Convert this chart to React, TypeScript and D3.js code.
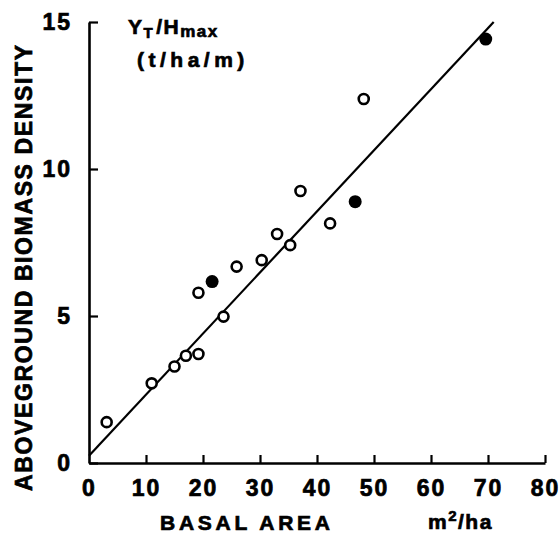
import React, { useEffect, useRef } from 'react';
import * as d3 from 'd3';

// open circles
const openBasal = [3.1, 11.0, 15.0, 17.0, 19.2, 23.6, 19.2, 25.9, 30.3, 33.0, 35.3, 37.1, 42.3, 48.2];
const openDensity = [1.39, 2.71, 3.28, 3.65, 3.71, 4.98, 5.79, 6.68, 6.90, 7.79, 7.41, 9.25, 8.15, 12.38];
// filled circles
const filledBasal = [21.6, 46.7, 69.6];
const filledDensity = [6.17, 8.89, 14.42];
// fitted line
const lineBasal = [0, 71];
const lineIntercept = 0.25;
const lineSlope = 0.2077;

const xTicks = [0, 10, 20, 30, 40, 50, 60, 70, 80];
const yTicks = [0, 5, 10, 15];

const App: React.FC = () => {
    const ref = useRef<SVGSVGElement>(null);
    const width = 560;
    const height = 536;
    const margin = { top: 22, right: 15, bottom: 73, left: 89 };

    useEffect(() => {
        const svg = d3.select(ref.current);
        svg.selectAll("*").remove();

        const font = "'Liberation Sans', Arial, sans-serif";
        const heavy = (t: any) => t
            .attr("font-family", font)
            .attr("font-weight", "bold")
            .attr("fill", "#000")
            .attr("stroke", "#000")
            .attr("stroke-width", 0.7);

        const x = d3.scaleLinear().domain([0, 80]).range([margin.left, width - margin.right]);
        const y = d3.scaleLinear().domain([0, 15]).range([height - margin.bottom, margin.top]);

        const xAxis = svg.append("g")
            .attr("transform", `translate(0,${y(0)})`)
            .call(d3.axisBottom(x).tickValues(xTicks).tickSizeInner(-8).tickSizeOuter(0).tickPadding(17));
        const yAxis = svg.append("g")
            .attr("transform", `translate(${x(0)},0)`)
            .call(d3.axisLeft(y).tickValues(yTicks).tickSizeInner(-9).tickSizeOuter(0).tickPadding(17));

        [xAxis, yAxis].forEach(a => {
            a.select(".domain").attr("stroke", "#000").attr("stroke-width", 2.6);
            a.selectAll(".tick line").attr("stroke", "#000").attr("stroke-width", 2.2);
            heavy(a.selectAll(".tick text"))
                .attr("font-size", 23)
                .attr("letter-spacing", 2);
        });
        xAxis.select(".tick:first-of-type line").remove();

        // fitted line
        svg.append("path")
            .datum(lineBasal)
            .attr("fill", "none")
            .attr("stroke", "#000")
            .attr("stroke-width", 2.2)
            .attr("d", d3.line<number>()
                .x(d => x(d))
                .y(d => y(lineIntercept + lineSlope * d)));

        svg.append("g")
            .selectAll("circle")
            .data(openBasal.map((b, i) => [b, openDensity[i]]))
            .join("circle")
            .attr("cx", d => x(d[0]))
            .attr("cy", d => y(d[1]))
            .attr("r", 5)
            .attr("fill", "#fff")
            .attr("stroke", "#000")
            .attr("stroke-width", 2.6);

        svg.append("g")
            .selectAll("circle")
            .data(filledBasal.map((b, i) => [b, filledDensity[i]]))
            .join("circle")
            .attr("cx", d => x(d[0]))
            .attr("cy", d => y(d[1]))
            .attr("r", 6.5)
            .attr("fill", "#000");

        // axis titles
        heavy(svg.append("text"))
            .attr("transform", `translate(32,${268}) rotate(-90)`)
            .attr("text-anchor", "middle")
            .attr("font-size", 23)
            .attr("textLength", 446)
            .attr("lengthAdjust", "spacing")
            .text("ABOVEGROUND BIOMASS DENSITY");

        heavy(svg.append("text"))
            .attr("x", 245)
            .attr("y", 530)
            .attr("text-anchor", "middle")
            .attr("font-size", 21)
            .attr("textLength", 170)
            .attr("lengthAdjust", "spacing")
            .text("BASAL AREA");

        const unit = heavy(svg.append("text"))
            .attr("x", 428)
            .attr("y", 529)
            .attr("font-size", 21)
            .attr("letter-spacing", 1.5);
        unit.append("tspan").text("m");
        unit.append("tspan").attr("dy", -8).attr("font-size", 15).text("2");
        unit.append("tspan").attr("dy", 8).text("/ha");

        const yt = heavy(svg.append("text"))
            .attr("x", 128)
            .attr("y", 34)
            .attr("font-size", 21)
            .attr("letter-spacing", 1.5);
        yt.append("tspan").text("Y");
        yt.append("tspan").attr("dy", 4).attr("font-size", 15).text("T");
        yt.append("tspan").attr("dy", -4).attr("dx", 2).text("/H");
        yt.append("tspan").attr("dy", 3).attr("font-size", 17).text("max");

        heavy(svg.append("text"))
            .attr("x", 137)
            .attr("y", 67)
            .attr("font-size", 21)
            .attr("letter-spacing", 4.5)
            .text("(t/ha/m)");
        //eslint-disable-next-line
    }, []);

    return <svg ref={ref} width={width} height={height}
        style={{ position: 'absolute', left: 0, top: 0, background: '#fff' }}></svg>;
};

export default App;
